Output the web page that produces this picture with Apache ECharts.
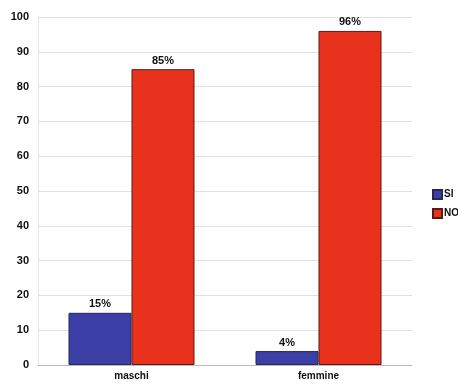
<!DOCTYPE html>
<html><head><meta charset="utf-8">
<script src="https://cdn.jsdelivr.net/npm/echarts@6/dist/echarts.min.js"></script>
<style>html,body{margin:0;padding:0;background:#fff}#c{width:458px;height:388px}</style>
</head><body><div id="c"></div>
<script>
const categories = ['maschi', 'femmine'];
const siValues = [15, 4];
const noValues = [85, 96];
const yTicks = [0, 100, 10];

const chart = echarts.init(document.getElementById('c'));
const lbl = {show: true, position: 'top', formatter: p => p.value + '%', color: '#111', fontFamily: 'Liberation Sans', fontSize: 11, fontWeight: 'bold', distance: 3};
chart.setOption({
  animation: false,
  backgroundColor: '#fff',
  grid: {left: 38, right: 46, top: 17, bottom: 23},
  legend: {
    orient: 'vertical', left: 427, top: 184, itemWidth: 9, itemHeight: 9, itemGap: 8, icon: 'rect',
    textStyle: {fontFamily: 'Liberation Sans', fontSize: 10, fontWeight: 'bold', color: '#111', padding: [0,0,0,-3]},
    data: ['SI', 'NO']
  },
  xAxis: {
    type: 'category', data: categories,
    axisLine: {lineStyle: {color: '#bbb'}}, axisTick: {show: false},
    axisLabel: {color: '#111', fontFamily: 'Liberation Sans', fontSize: 10, fontWeight: 'bold', margin: 6}
  },
  yAxis: {
    type: 'value', min: yTicks[0], max: yTicks[1], interval: yTicks[2],
    axisLine: {show: true, lineStyle: {color: '#e6e6e6'}}, axisTick: {show: false},
    splitLine: {lineStyle: {color: '#e0e0e0'}},
    axisLabel: {color: '#111', fontFamily: 'Liberation Sans', fontSize: 11, fontWeight: 'bold', margin: 9}
  },
  series: [
    {name: 'SI', type: 'bar', data: siValues, barWidth: 63, barGap: '0%',
     itemStyle: {color: '#3b3fa6', borderColor: '#222a55', borderWidth: 1}, label: lbl},
    {name: 'NO', type: 'bar', data: noValues, barWidth: 63,
     itemStyle: {color: '#e8321e', borderColor: '#5a1a10', borderWidth: 1}, label: lbl}
  ]
});
</script></body></html>
